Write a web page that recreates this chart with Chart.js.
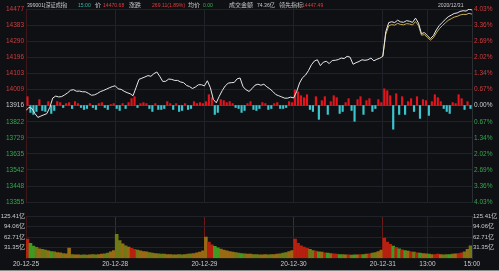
<!DOCTYPE html>
<html>
<head>
<meta charset="utf-8">
<script src="https://cdn.jsdelivr.net/npm/chart.js@4"></script>
<style>
body{margin:0;background:#0e1014;width:499px;height:271px;overflow:hidden;position:relative;font-family:"Liberation Sans","Noto Sans CJK SC",sans-serif}
canvas{position:absolute;left:0}
#hdr span{position:absolute;top:2px;font-size:6px;line-height:6px;white-space:nowrap;color:#c8c8c8;z-index:2;transform-origin:0 50%}
#hdr span.n{transform:scaleX(0.85)}
#foot{position:absolute;left:0;top:270px;width:499px;height:1px;background:#8a8a8a}
</style>
</head>
<body>
<canvas id="px" width="499" height="208" style="top:0"></canvas>
<canvas id="vol" width="499" height="63" style="top:208px"></canvas>
<div id="hdr">
<span class="n" style="left:27px">399001[深证成指]</span>
<span class="n" style="left:78px;color:#38b5a5">15:00</span>
<span style="left:95px">价</span>
<span class="n" style="left:103px;color:#e03c3c">14470.68</span>
<span style="left:129px">涨跌</span>
<span class="n" style="left:152px;color:#e03c3c">269.11(1.89%)</span>
<span style="left:188px">均价</span>
<span class="n" style="left:203px;color:#33b04a">0.00</span>
<span style="left:229px">成交金额</span>
<span class="n" style="left:257px">74.36亿</span>
<span style="left:279px">领先指标</span>
<span class="n" style="left:302px;color:#e03c3c">14447.49</span>
<span class="n" style="left:438px">2020/12/31</span>
</div>
<div id="foot"></div>
<script>
// 5日分时，每个点 = 8 分钟
const STEP = 8;
const dayLabels = ['20-12-25', '20-12-28', '20-12-29', '20-12-30', '20-12-31'];
const timeLabels = ['13:00', '15:00'];
const prevClose = 13916;

const priceTicks = [14477, 14383, 14290, 14196, 14103, 14009, 13916, 13822, 13729, 13635, 13542, 13448, 13355];
const pctTicks = ['4.03%', '3.36%', '2.69%', '2.02%', '1.34%', '0.67%', '0.00%', '0.67%', '1.34%', '2.02%', '2.69%', '3.36%', '4.03%'];
const volTicks = [31.35, 62.71, 94.06, 125.41];
const volTickLabels = ['31.35亿', '62.71亿', '94.06亿', '125.41亿'];

// 指数
const priceVal = [
  13887, 13906, 13899, 13870, 13847, 13855, 13862, 13869, 13905, 13960, 13971, 13966, 13968, 13978, 13990, 14005, 14008, 13999, 14000, 13996, 13996, 13987, 13976, 13978, 13986, 13997, 14003, 14011, 14019, 14026,
  14031, 14013, 14010, 13999, 13991, 13985, 13973, 14020, 14068, 14075, 14082, 14090, 14086, 14101, 14111, 14085, 14056, 14057, 14070, 14068, 14062, 14062, 14053, 14049, 14033, 14026, 14015, 14024, 14037, 14037,
  14030, 14060, 14020, 13952, 13932, 13970, 14003, 14030, 14046, 14049, 14050, 14071, 14076, 14025, 14008, 13998, 14014, 14034, 14040, 14034, 14040, 14025, 14013, 13998, 13980, 13973, 13966, 13959, 13959, 13965,
  13960, 13996, 14047, 14078, 14093, 14119, 14153, 14175, 14182, 14148, 14168, 14173, 14160, 14178, 14179, 14183, 14192, 14189, 14202, 14197, 14156, 14165, 14172, 14182, 14179, 14182, 14192, 14176, 14185, 14191,
  14202, 14345, 14398, 14403, 14398, 14412, 14402, 14400, 14409, 14406, 14399, 14424, 14395, 14334, 14340, 14322, 14305, 14322, 14355, 14381, 14399, 14416, 14432, 14441, 14451, 14454, 14463, 14467, 14465, 14476, 14471
];
// 领先指标 (只有最后一天)
const leadFrom = 120;
const leadVal = [
  14202, 14330, 14380, 14386, 14383, 14394, 14387, 14385, 14392, 14390, 14384, 14404, 14381, 14325, 14328, 14312,
  14296, 14310, 14338, 14362, 14380, 14396, 14411, 14420, 14430, 14434, 14442, 14446, 14445, 14452, 14447
];
// 红绿柱
const histVal = [
  9, -7, -9, -6, 6, -5, -6, 4, -8, -5, 4, 3, -2, 2, 3, -3, 4, 2, -2, -4, -3, 2, -2, -4, 2, 3, -2, -4, 1, 2,
  -3, -5, 2, -3, 3, 7, 9, -2, 2, 3, 2, -3, -6, 2, -4, -4, -3, 4, 2, -4, 2, -6, -5, 2, -4, -3, 4, 2, 3, 2,
  4, 11, 8, -9, -7, 6, 5, 3, 4, 2, -2, -3, -7, -5, 2, 4, -4, -5, -3, 3, 2, -4, -3, 2, 3, -3, -3, -2, 4, 3,
  16, 14, 10, 8, 11, -4, -6, 9, -14, 5, 9, -9, 4, 10, 8, -8, -6, 3, 7, -5, -16, 6, 9, -9, 5, 7, -6, -3, 6, 3,
  17, 15, 10, -24, 12, -9, 9, -9, 4, 7, -6, 9, -13, 6, 5, -10, 4, 11, 8, 4, -3, -6, -8, 3, 2, 11, 7, -4, 4, -3
];
// 成交金额(亿)
const volVal = [
  57, 44, 36, 32, 28, 26, 24, 22, 20, 19, 17, 16, 14, 13, 30, 11, 10, 10, 9, 10, 9, 10, 11, 10, 11, 12, 13, 15, 19, 23,
  71, 52, 43, 37, 33, 29, 26, 24, 22, 20, 19, 17, 15, 14, 13, 12, 12, 11, 11, 10, 10, 11, 10, 11, 12, 13, 14, 16, 18, 22,
  63, 48, 40, 35, 31, 27, 24, 22, 20, 18, 17, 15, 14, 13, 12, 12, 11, 11, 10, 10, 11, 10, 11, 11, 12, 13, 15, 17, 20, 23,
  57, 44, 37, 33, 29, 26, 23, 21, 19, 18, 16, 15, 14, 13, 12, 11, 11, 10, 10, 9, 10, 10, 11, 11, 12, 13, 15, 17, 20, 24,
  60, 48, 41, 36, 32, 28, 25, 23, 21, 19, 18, 16, 15, 14, 13, 12, 11, 11, 12, 11, 10, 11, 11, 12, 13, 14, 16, 19, 26, 37
];

const DAY = 240;
const dayStarts = dayLabels.map((d, i) => i * DAY);
const xTickMinutes = dayStarts.concat([4 * DAY + 120, 5 * DAY]);
const xTickLabels = dayLabels.concat(timeLabels);

const TXT = '#cccccc', UP = '#d23c3c', DOWN = '#35a84a';
const GRID = '#1f2228';
const font = { family: '"Liberation Sans","Noto Sans CJK SC",sans-serif', size: 6.5 };

function tickColor(ctx) {
  const v = ctx.tick.value;
  if (Math.abs(v - prevClose) < 1) return TXT;
  return v > prevClose ? UP : DOWN;
}

// 上半部分：分时图
new Chart(document.getElementById('px'), {
  type: 'line',
  data: {
    datasets: [
      {
        label: '指数',
        data: priceVal.map((v, i) => ({ x: i * STEP, y: v })),
        yAxisID: 'y', borderColor: '#e8e8e8', borderWidth: 1, pointRadius: 0, order: 1
      },
      {
        label: '领先指标',
        data: leadVal.map((v, i) => ({ x: (leadFrom + i) * STEP, y: v })),
        yAxisID: 'y', borderColor: '#c9ad58', borderWidth: 1, pointRadius: 0, order: 2
      },
      {
        type: 'bar', label: '红绿柱',
        data: histVal.map((v, i) => ({ x: i * STEP + STEP / 2, y: v })),
        yAxisID: 'yh', backgroundColor: histVal.map(v => v >= 0 ? '#e3141b' : '#3cc5cf'),
        barThickness: 1.5, order: 3
      }
    ]
  },
  options: {
    responsive: false, animation: false, events: [],
    layout: { padding: { top: 9, bottom: 3, left: 0, right: 0 } },
    plugins: { legend: { display: false }, tooltip: { enabled: false } },
    scales: {
      x: {
        type: 'linear', min: 0, max: 5 * DAY, offset: false,
        afterBuildTicks: s => { s.ticks = [DAY, 2 * DAY, 3 * DAY, 4 * DAY, 4 * DAY + 120].map(v => ({ value: v })); },
        ticks: { display: false },
        grid: { color: GRID, drawTicks: false, offset: false },
        border: { display: false }
      },
      y: {
        position: 'left', min: priceTicks[priceTicks.length - 1], max: priceTicks[0],
        afterBuildTicks: s => { s.ticks = priceTicks.slice().reverse().map(v => ({ value: v })); },
        afterFit: s => { s.width = 26; },
        ticks: { color: tickColor, font: font, padding: 2, callback: v => String(v) },
        grid: { color: c => Math.abs(c.tick.value - prevClose) < 1 ? '#34373e' : GRID, drawTicks: false },
        border: { color: '#3e1818' }
      },
      y2: {
        position: 'right', min: priceTicks[priceTicks.length - 1], max: priceTicks[0],
        afterBuildTicks: s => { s.ticks = priceTicks.slice().reverse().map(v => ({ value: v })); },
        afterFit: s => { s.width = 27; },
        ticks: { color: tickColor, font: font, padding: 2, callback: (v, i) => pctTicks[pctTicks.length - 1 - i] },
        grid: { display: false, drawTicks: false },
        border: { color: '#2a2d33' }
      },
      yh: { display: false, min: -98, max: 98 }
    }
  }
});

// 下半部分：成交金额
new Chart(document.getElementById('vol'), {
  type: 'bar',
  data: {
    datasets: [{
      label: '成交金额',
      data: volVal.map((v, i) => ({ x: i * STEP + STEP / 2, y: v })),
      backgroundColor: histVal.map(h => h >= 7 ? '#b8200f' : h <= -7 ? '#3f9a22' : h >= 0 ? '#9a6a12' : '#6f7a16'),
      barPercentage: 1, categoryPercentage: 1, yAxisID: 'yv'
    }]
  },
  options: {
    responsive: false, animation: false, events: [],
    layout: { padding: { top: 8, bottom: 1, left: 0, right: 0 } },
    plugins: { legend: { display: false }, tooltip: { enabled: false } },
    scales: {
      x: {
        type: 'linear', min: 0, max: 5 * DAY, offset: false,
        afterBuildTicks: s => { s.ticks = xTickMinutes.map(v => ({ value: v })); },
        ticks: { autoSkip: false, maxRotation: 0, color: TXT, font: font, padding: 2, callback: (v, i) => xTickLabels[i] },
        grid: { color: c => dayStarts.includes(c.tick.value) && c.tick.value > 0 ? '#701818' : GRID, drawTicks: false, offset: false },
        border: { display: false }
      },
      yv: {
        position: 'left', min: 0, max: volTicks[volTicks.length - 1],
        afterBuildTicks: s => { s.ticks = volTicks.map(v => ({ value: v })); },
        afterFit: s => { s.width = 26; },
        ticks: { color: TXT, font: { family: font.family, size: 6 }, padding: 1, callback: (v, i) => volTickLabels[i] },
        grid: { color: GRID, drawTicks: false },
        border: { color: '#3e1818' }
      },
      yv2: {
        position: 'right', min: 0, max: volTicks[volTicks.length - 1],
        afterBuildTicks: s => { s.ticks = volTicks.map(v => ({ value: v })); },
        afterFit: s => { s.width = 27; },
        ticks: { color: TXT, font: { family: font.family, size: 6 }, padding: 1, callback: (v, i) => volTickLabels[i] },
        grid: { display: false, drawTicks: false },
        border: { color: '#2a2d33' }
      }
    }
  }
});
</script>
</body>
</html>
